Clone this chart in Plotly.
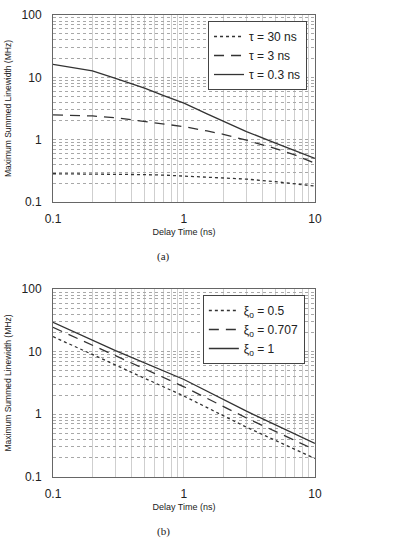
import plotly.graph_objects as go

# Panel (a): tau curves
delay_a = [0.1, 0.15, 0.2, 0.3, 0.5, 0.7, 1, 1.5, 2, 3, 5, 7, 10]
tau30 = [0.284, 0.283, 0.282, 0.28, 0.275, 0.27, 0.262, 0.252, 0.245, 0.233, 0.212, 0.197, 0.18]
tau3 = [2.5, 2.45, 2.4, 2.25, 1.98, 1.8, 1.62, 1.38, 1.22, 0.98, 0.72, 0.57, 0.42]
tau03 = [16.2, 14.2, 12.7, 9.6, 6.7, 5.1, 3.85, 2.6, 1.98, 1.35, 0.88, 0.67, 0.50]

# Panel (b): xi curves
delay_b = [0.1, 0.3, 1, 3, 10]
xi05 = [17.5, 6.2, 1.95, 0.62, 0.196]
xi0707 = [24.6, 8.6, 2.75, 0.87, 0.27]
xi1 = [29.6, 10.4, 3.6, 1.12, 0.34]

names_a = ["τ = 30 ns", "τ = 3 ns", "τ = 0.3 ns"]
names_b = ["ξ<sub>o</sub> = 0.5", "ξ<sub>o</sub> = 0.707", "ξ<sub>o</sub> = 1"]
dashes = ["dot", "10px,7px", "solid"]

xticks = [0.1, 1, 10]
xticklabels = ["0.1", "1", "10"]
yticks = [0.1, 1, 10, 100]
yticklabels = ["0.1", "1", "10", "100"]

LC = "#333333"
fig = go.Figure()
for ys, nm, d in zip([tau30, tau3, tau03], names_a, dashes):
    fig.add_trace(go.Scatter(x=delay_a, y=ys, name=nm, mode="lines", line=dict(color=LC, width=1.3, dash=d),
                             xaxis="x", yaxis="y", legend="legend"))
for ys, nm, d in zip([xi05, xi0707, xi1], names_b, dashes):
    fig.add_trace(go.Scatter(x=delay_b, y=ys, name=nm, mode="lines", line=dict(color=LC, width=1.3, dash=d),
                             xaxis="x2", yaxis="y2", legend="legend2"))

xgrid = "#cfcfcf"
ygrid = "#a8a8a8"
def xa(anchor):
    return dict(type="log", range=[-1, 1], tickvals=xticks, ticktext=xticklabels, domain=[0.1296, 0.770],
                anchor=anchor, showline=True, mirror=True, linecolor="#666", linewidth=1,
                showgrid=True, gridcolor=xgrid, gridwidth=1, automargin=False,
                minor=dict(dtick="D1", showgrid=True, gridcolor=xgrid, gridwidth=1),
                tickfont=dict(family="Liberation Sans", size=12, color="#222"), ticks="", ticklabelstandoff=6,
                title=dict(text="Delay Time (ns)", font=dict(family="Liberation Sans", size=9, color="#222"), standoff=3))

def ya(anchor, dom):
    return dict(type="log", range=[-1, 2], tickvals=yticks, ticktext=yticklabels, domain=dom,
                anchor=anchor, showline=True, mirror=True, linecolor="#666", linewidth=1,
                showgrid=True, gridcolor=ygrid, griddash="dot", gridwidth=1, automargin=False,
                minor=dict(dtick="D1", showgrid=True, gridcolor=ygrid, griddash="dot", gridwidth=1),
                tickfont=dict(family="Liberation Sans", size=12, color="#222"), ticks="", ticklabelstandoff=8,
                title=dict(text="Maximum Summed Linewidth (MHz)", font=dict(family="Liberation Sans", size=8.5, color="#222"), standoff=8))

leg = dict(bgcolor="white", bordercolor="#444", borderwidth=1, xanchor="left", yanchor="top",
           font=dict(family="Liberation Sans", size=12, color="#222"), itemwidth=30, tracegroupgap=0)

fig.update_layout(
    width=409, height=556, margin=dict(l=0, r=0, t=0, b=0, autoexpand=False),
    paper_bgcolor="white", plot_bgcolor="white",
    xaxis=xa("y"), yaxis=ya("x", [0.6367, 0.973]),
    xaxis2=xa("y2"), yaxis2=ya("x2", [0.1426, 0.4797]),
    legend=dict(leg, x=0.5086, y=0.9622),
    legend2=dict(leg, x=0.496, y=0.4694),
    annotations=[
        dict(text="(a)", x=0.40, y=1 - 256 / 556, xref="paper", yref="paper", showarrow=False,
             xanchor="center", yanchor="middle",
             font=dict(family="Liberation Serif", size=11, color="#222")),
        dict(text="(b)", x=0.40, y=1 - 531 / 556, xref="paper", yref="paper", showarrow=False,
             xanchor="center", yanchor="middle",
             font=dict(family="Liberation Serif", size=11, color="#222")),
    ],
)

fig.write_html("out.html")
